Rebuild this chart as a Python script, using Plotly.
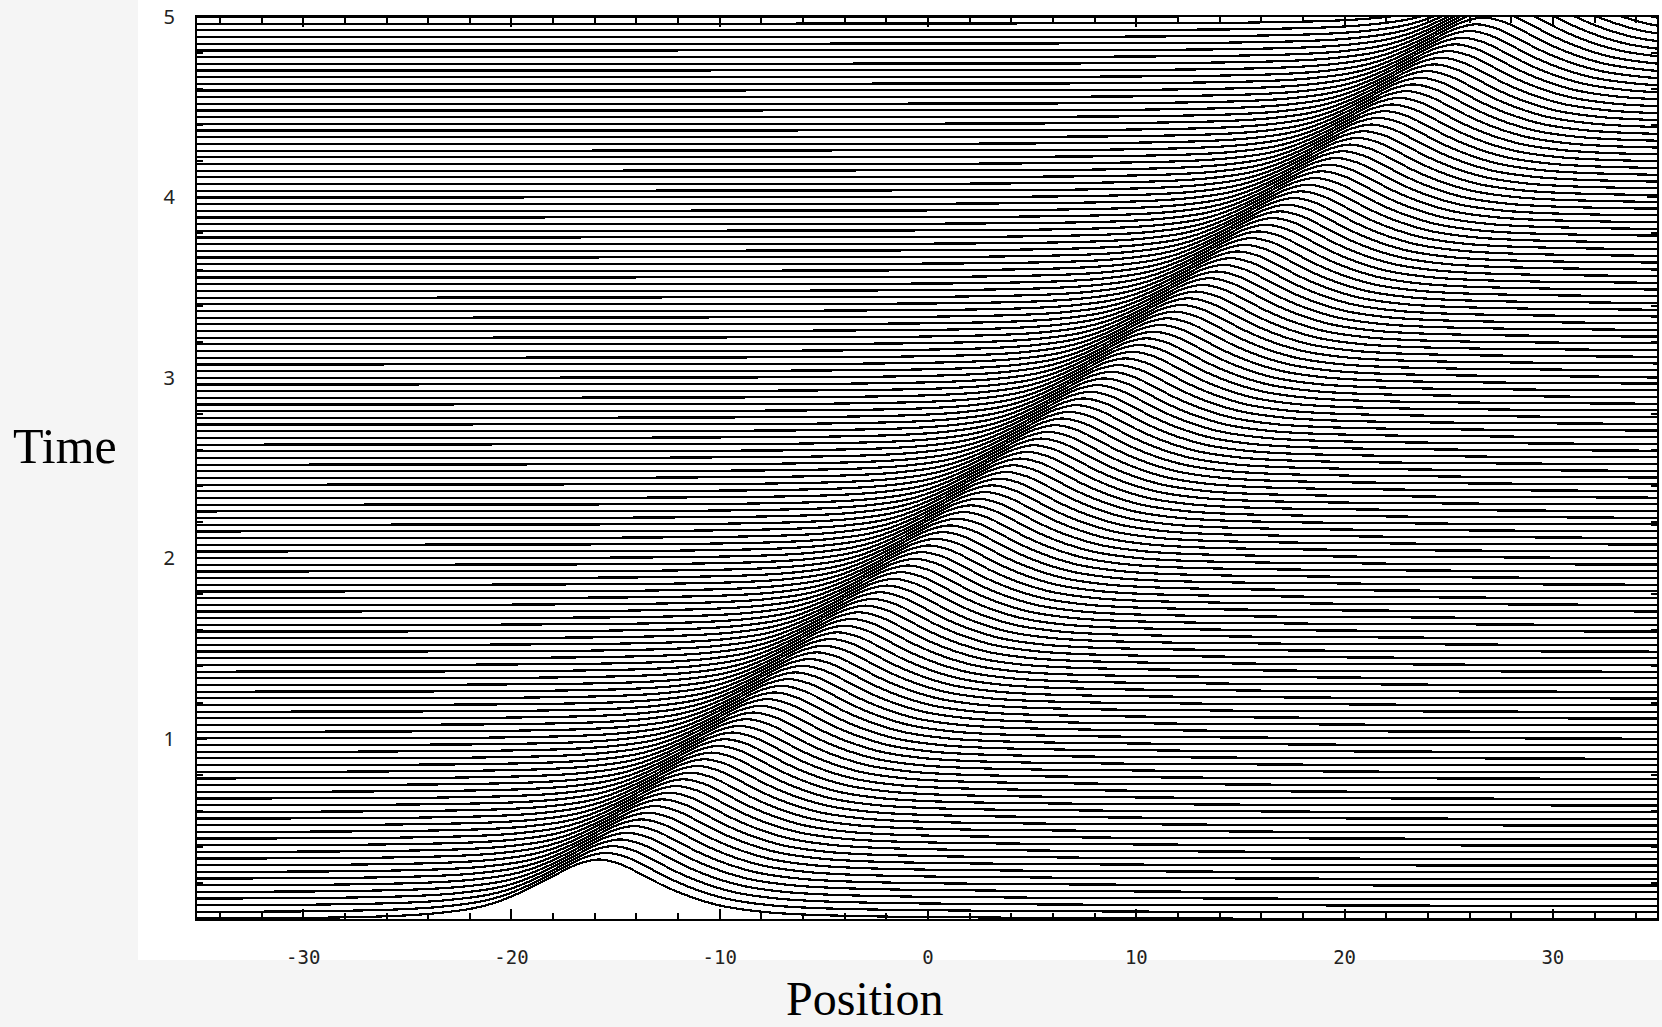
import numpy as np
import plotly.graph_objects as go

# ---- data ----
trace_count = 136                      # number of time slices drawn (0 .. 5)
t_start, t_end = 0.0, 5.0
soliton_x0 = -15.8                     # peak position of the first slice
soliton_speed = 9.1                    # position units per time unit

# pulse profile relative to its peak (offset in position, height in time units)
profile_s = [-90, -40, -20, -14, -10, -8, -6, -5, -4, -3, -2, -1, 0,
             1, 2, 3, 4, 5, 6, 8, 10, 14, 20, 28, 40, 90]
profile_h = [0.0, 0.0, 0.002, 0.006, 0.016, 0.03, 0.06, 0.09, 0.135, 0.19, 0.25, 0.305, 0.33,
             0.305, 0.25, 0.19, 0.14, 0.10, 0.07, 0.038, 0.024, 0.013, 0.007, 0.003, 0.0, 0.0]

x_ticks = [-30, -20, -10, 0, 10, 20, 30]
y_ticks = [1, 2, 3, 4, 5]

times = [t_start + (t_end - t_start) * i / (trace_count - 1) for i in range(trace_count)]

xs, ys = [], []
ps = np.array(profile_s, dtype=float)
ph = np.array(profile_h, dtype=float)
for t in times:
    xp = soliton_x0 + soliton_speed * t
    xs.extend(list(xp + ps) + [None])
    ys.extend(list(t + ph) + [None])

fig = go.Figure()
fig.add_trace(go.Scatter(
    x=xs, y=ys, mode="lines",
    line=dict(color="black", width=2.2, shape="spline", smoothing=1.0),
    hoverinfo="skip", showlegend=False,
))

W, H = 1662, 1027
fig.update_layout(
    width=W, height=H,
    margin=dict(l=197, r=3, t=16, b=108),
    paper_bgcolor="#f5f5f5",
    plot_bgcolor="white",
    showlegend=False,
    shapes=[dict(type="rect", xref="paper", yref="paper",
                 x0=(138 - 197) / (W - 200), x1=1.01, y0=-(960 - 919) / (919 - 16), y1=1.02,
                 fillcolor="white", line=dict(width=0), layer="below")],
    annotations=[
        dict(text="Time", xref="paper", yref="paper",
             x=(65 - 197) / (W - 200), y=(919 - 445) / (919 - 16),
             showarrow=False, font=dict(family="Liberation Serif", size=50, color="black"),
             xanchor="center", yanchor="middle"),
        dict(text="Position", xref="paper", yref="paper",
             x=(865 - 197) / (W - 200), y=-(1027 - 919) / (919 - 16),
             showarrow=False, font=dict(family="Liberation Serif", size=48, color="black"),
             xanchor="center", yanchor="bottom"),
    ],
)

fig.update_xaxes(
    range=[-35.1, 35.0], showgrid=False, zeroline=False,
    showline=True, linecolor="black", linewidth=2, mirror="ticks",
    ticks="inside", ticklen=10, tickwidth=2, tickcolor="black",
    tickvals=x_ticks, ticktext=[str(v) for v in x_ticks],
    tickfont=dict(family="DejaVu Sans Mono", size=19, color="#222"),
    ticklabelstandoff=20,
    minor=dict(dtick=2, tick0=0, ticks="inside", ticklen=6, tickwidth=1.5, tickcolor="black"),
)
fig.update_yaxes(
    range=[0, 5], showgrid=False, zeroline=False,
    showline=True, linecolor="black", linewidth=2, mirror="ticks",
    ticks="inside", ticklen=10, tickwidth=2, tickcolor="black",
    tickvals=y_ticks, ticktext=[str(v) for v in y_ticks],
    tickfont=dict(family="Noto Sans", size=20, color="#222"),
    ticklabelstandoff=16,
    minor=dict(dtick=0.2, tick0=0, ticks="inside", ticklen=6, tickwidth=1.5, tickcolor="black"),
)

fig.write_html(
    "out.html",
    post_script="document.querySelectorAll('.scatterlayer path').forEach(function(p){p.style.shapeRendering='crispEdges';});",
)
